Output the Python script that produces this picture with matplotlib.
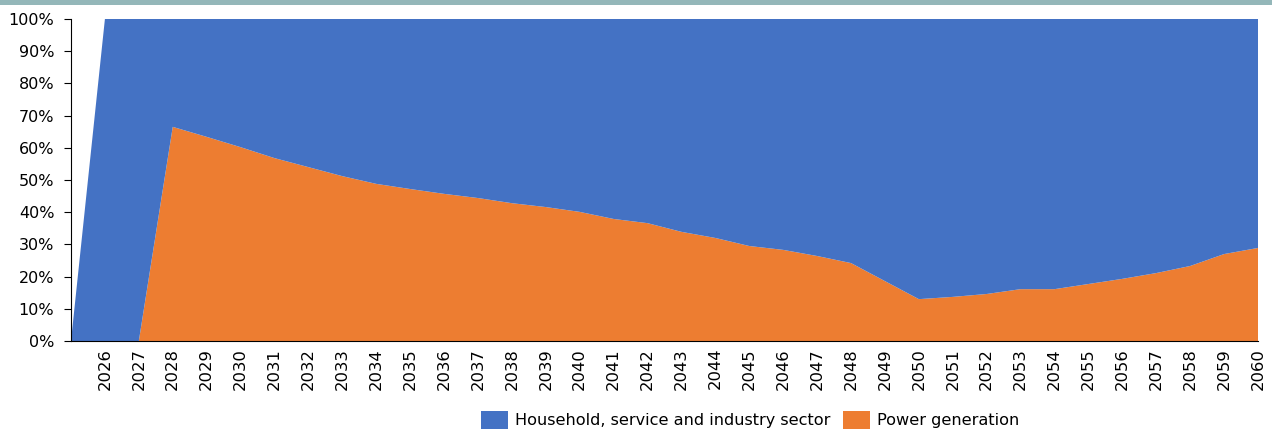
import numpy as np
import matplotlib.pyplot as plt
from matplotlib.patches import Rectangle

years = list(range(2025, 2061))
year_labels = [""] + [str(y) for y in years[1:]]

# share of power generation (%), per year
power = [0, 0, 0, 66.5, 63.4, 60.2, 56.8, 54.0, 51.2, 48.8, 47.2, 45.7, 44.4,
         42.8, 41.6, 40.1, 37.9, 36.6, 33.9, 32.0, 29.5, 28.3, 26.4, 24.2,
         18.6, 13.0, 13.7, 14.6, 16.1, 16.1, 17.7, 19.3, 21.1, 23.3, 27.0, 28.9]
# household, service and industry sector (%)
household = [0, 100] + [100 - p for p in power[2:]]

blue = "#4472C4"
orange = "#ED7D31"

fig = plt.figure(figsize=(12.72, 4.3), dpi=100)
fig.patches.append(Rectangle((0, 1 - 5 / 430), 1, 5 / 430, transform=fig.transFigure,
                             facecolor="#94B7B9", edgecolor="none"))
ax = fig.add_axes([71 / 1272, 1 - 341 / 430, (1258 - 71) / 1272, (341 - 19) / 430])

x = np.arange(len(years))
ax.stackplot(x, power, household, colors=[orange, blue],
             labels=["Power generation", "Household, service and industry sector"],
             linewidth=0)

ax.set_xlim(0, len(years) - 1)
ax.set_ylim(0, 100)
ax.set_yticks(range(0, 101, 10))
ax.set_yticklabels([f"{v}%" for v in range(0, 101, 10)], fontsize=11.5)
ax.set_xticks(x)
ax.set_xticklabels(year_labels, rotation=90, fontsize=11.8)
ax.tick_params(axis="x", length=0, pad=5)
ax.tick_params(axis="y", length=5, direction="out", pad=7)
for s in ["top", "right"]:
    ax.spines[s].set_visible(False)
ax.spines["left"].set_color("black")
ax.spines["bottom"].set_color("black")

handles, labels = ax.get_legend_handles_labels()
fig.legend(handles[::-1], labels[::-1], loc="center", bbox_to_anchor=(750 / 1272, 1 - 420 / 430),
           ncol=2, frameon=False, fontsize=11.6, handlelength=1.7, handleheight=1.3,
           handletextpad=0.4, columnspacing=0.8)

fig.savefig("out.png", dpi=100)
